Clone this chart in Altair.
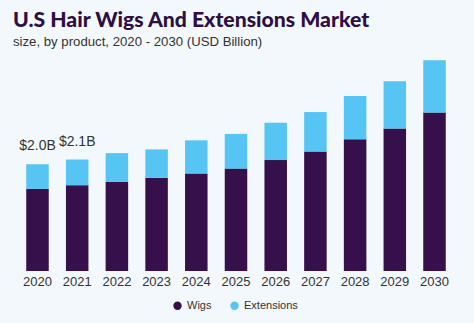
import altair as alt
import pandas as pd

years = ["2020", "2021", "2022", "2023", "2024", "2025", "2026", "2027", "2028", "2029", "2030"]
wigs = [1.54, 1.61, 1.67, 1.75, 1.83, 1.92, 2.08, 2.24, 2.47, 2.67, 2.97]
extensions = [0.46, 0.48, 0.54, 0.53, 0.62, 0.65, 0.70, 0.74, 0.81, 0.89, 0.98]
labels = ["$2.0B", "$2.1B", "", "", "", "", "", "", "", "", ""]

rows = []
for y, w, e in zip(years, wigs, extensions):
    rows.append({"year": y, "product": "Wigs", "value": w, "order": 0})
    rows.append({"year": y, "product": "Extensions", "value": e, "order": 1})
df = pd.DataFrame(rows)

tot = pd.DataFrame({"year": years, "total": [w + e for w, e in zip(wigs, extensions)], "label": labels})
tot = tot[tot["label"] != ""]

BG = "#F3F8FC"
DARK = "#35104A"
LIGHT = "#56C5F3"

x_scale = alt.Scale(paddingInner=0.433, paddingOuter=0.434)
y_scale = alt.Scale(domain=[0, 4.05], nice=False)

bars = alt.Chart(df).mark_bar().encode(
    x=alt.X("year:N", scale=x_scale, sort=years,
            axis=alt.Axis(title=None, labelAngle=0, ticks=False, domain=False,
                          labelFont="Liberation Sans", labelFontSize=13, labelColor="#333333",
                          labelPadding=4)),
    y=alt.Y("value:Q", stack="zero", scale=y_scale, axis=None),
    color=alt.Color("product:N", sort=["Wigs", "Extensions"],
                    scale=alt.Scale(domain=["Wigs", "Extensions"], range=[DARK, LIGHT]),
                    legend=alt.Legend(title=None, orient="none", direction="horizontal",
                                      legendX=163, legendY=245, symbolType="circle",
                                      symbolSize=70, labelFont="Liberation Sans",
                                      labelFontSize=11, labelColor="#333333",
                                      columnPadding=17, symbolStrokeWidth=0)),
    order=alt.Order("order:Q"),
)

text = alt.Chart(tot).mark_text(baseline="bottom", dy=-11, font="Liberation Sans",
                                fontSize=14, color="#333333").encode(
    x=alt.X("year:N", scale=x_scale, sort=years),
    y=alt.Y("total:Q", scale=y_scale),
    text="label:N",
)

chart = (bars + text).properties(
    width=454, height=216,
    background=BG,
    padding={"left": 9, "right": 11, "top": 55, "bottom": 52},
    autosize=alt.AutoSizeParams(type="none"),
    title=alt.TitleParams(
        text="U.S Hair Wigs And Extensions Market",
        subtitle="size, by product, 2020 - 2030 (USD Billion)",
        anchor="start", dx=4, offset=7,
        font="Lato", fontSize=21.2, fontWeight=900, color="#2E0F44",
        subtitleFont="Liberation Sans", subtitleFontSize=13.2, subtitleColor="#333333",
        subtitlePadding=5,
    ),
).configure_view(stroke=None)

chart.save("out.html", embed_options={"renderer": "svg", "actions": False})
